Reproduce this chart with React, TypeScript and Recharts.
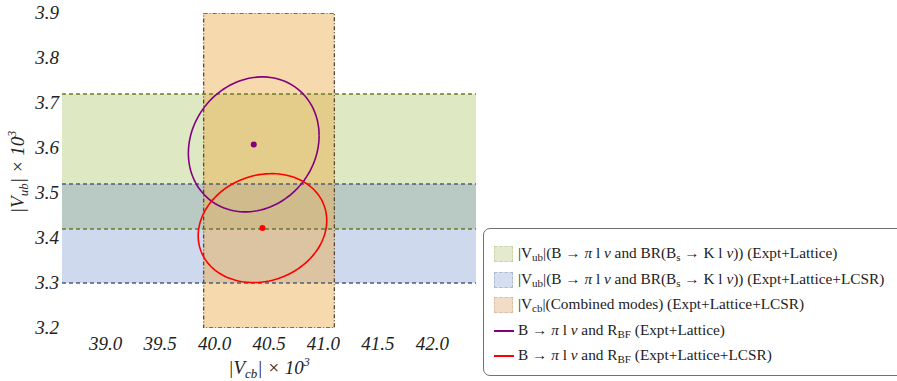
import React from 'react'
import { ScatterChart, Scatter, XAxis, YAxis, ReferenceArea, ReferenceLine, Text } from 'recharts'

// |Vub| bands (x 10^3)
const vubLatticeBand = [3.42, 3.72]
const vubLcsrBand = [3.3, 3.52]
// |Vcb| band (x 10^3)
const vcbBand = [39.9, 41.1]

// joint fits: centre, contour half-extents and correlation
const fitNames = ['Expt+Lattice', 'Expt+Lattice+LCSR']
const fitVcb = [40.36, 40.44]
const fitVub = [3.608, 3.422]
const fitHalfVcb = [0.6, 0.59]
const fitHalfVub = [0.15, 0.121]
const fitCorr = [0.13, 0.14]
const fitColors = ['#800080', '#ff0000']

const xDomain = [38.6, 42.4]
const yDomain = [3.2, 3.9]
const xMajor = [39, 39.5, 40, 40.5, 41, 41.5, 42]
const xTicks = [
  38.7, 38.8, 38.9, 39, 39.1, 39.2, 39.3, 39.4, 39.5, 39.6, 39.7, 39.8, 39.9,
  40, 40.1, 40.2, 40.3, 40.4, 40.5, 40.6, 40.7, 40.8, 40.9, 41, 41.1, 41.2, 41.3,
  41.4, 41.5, 41.6, 41.7, 41.8, 41.9, 42, 42.1, 42.2, 42.3,
]
const yMajor = [3.2, 3.3, 3.4, 3.5, 3.6, 3.7, 3.8, 3.9]
const yTicks = [
  3.2, 3.22, 3.24, 3.26, 3.28, 3.3, 3.32, 3.34, 3.36, 3.38, 3.4, 3.42, 3.44, 3.46,
  3.48, 3.5, 3.52, 3.54, 3.56, 3.58, 3.6, 3.62, 3.64, 3.66, 3.68, 3.7, 3.72, 3.74,
  3.76, 3.78, 3.8, 3.82, 3.84, 3.86, 3.88, 3.9,
]

const GREEN = { fill: '#a0be50', edge: '#6b7a2c' }
const BLUE = { fill: '#6e8cc8', edge: '#4d5d78' }
const ORANGE = { fill: '#ebaa46', edge: '#5b4630' }

const FRAME = '#b8b8b8'
const TICK = '#a8a8a8'
const serif = '"Liberation Serif", "Times New Roman", serif'

// closed contour of a correlated 1-sigma region
function contour(i: number) {
  const d = Math.asin(fitCorr[i])
  const pts = []
  for (let k = 0; k <= 120; k++) {
    const t = (k / 120) * 2 * Math.PI
    pts.push({
      x: fitVcb[i] + fitHalfVcb[i] * Math.cos(t),
      y: fitVub[i] + fitHalfVub[i] * Math.sin(t + d),
    })
  }
  return pts
}

const isMajorX = (v: number) => xMajor.some((m) => Math.abs(m - v) < 1e-6)
const isMajorY = (v: number) => yMajor.some((m) => Math.abs(m - v) < 1e-6)

// tick labels only; the tick marks live on the frame axes below
const BottomLabel = (p: any) => (
  <Text x={p.x} y={p.y + 22} textAnchor="middle" fontFamily="Liberation Serif" fontStyle="italic" fontSize={19} fill="#222">
    {p.payload.value.toFixed(1)}
  </Text>
)

const LeftLabel = (p: any) => (
  <Text x={p.x - 3} y={p.y + 6} textAnchor="end" fontFamily="Liberation Serif" fontStyle="italic" fontSize={19} fill="#222">
    {p.payload.value.toFixed(1)}
  </Text>
)

// inward tick marks, Mathematica frame style
const BottomMark = (p: any) => (
  <line x1={p.x} x2={p.x} y1={p.y} y2={p.y - (isMajorX(p.payload.value) ? 7 : 3.5)} stroke={TICK} />
)
const TopMark = (p: any) => (
  <line x1={p.x} x2={p.x} y1={p.y} y2={p.y + (isMajorX(p.payload.value) ? 7 : 3.5)} stroke={TICK} />
)
const LeftMark = (p: any) => (
  <line x1={p.x} x2={p.x + (isMajorY(p.payload.value) ? 7 : 3.5)} y1={p.y} y2={p.y} stroke={TICK} />
)
const RightMark = (p: any) => (
  <line x1={p.x} x2={p.x - (isMajorY(p.payload.value) ? 7 : 3.5)} y1={p.y} y2={p.y} stroke={TICK} />
)

const Dot = (color: string) => (props: any) => <circle cx={props.cx} cy={props.cy} r={3} fill={color} />
const NoShape = () => <g />

const sub = { fontSize: '0.72em', verticalAlign: '-0.25em', lineHeight: 0 }

const swatch = (fill: string, border: string) => (
  <span
    style={{
      display: 'inline-block',
      width: 19,
      height: 16,
      marginRight: 5,
      verticalAlign: 'middle',
      background: fill,
      border: `1.5px dashed ${border}`,
      boxSizing: 'border-box',
    }}
  />
)

const lineSwatch = (color: string) => (
  <span style={{ display: 'inline-block', width: 20, height: 2, marginRight: 4, verticalAlign: 'middle', background: color }} />
)

function ChartLegend() {
  const rows = [
    <>
      {swatch('#e3ead0', '#c7d4a4')}|V<span style={sub}>ub</span>|(B → <i>π</i> l <i>ν</i> and BR(B<span style={sub}>s</span> → K l <i>ν</i>)) (Expt+Lattice)
    </>,
    <>
      {swatch('#d6dff0', '#aab8d0')}|V<span style={sub}>ub</span>|(B → <i>π</i> l <i>ν</i> and BR(B<span style={sub}>s</span> → K l <i>ν</i>)) (Expt+Lattice+LCSR)
    </>,
    <>
      {swatch('#f1dcc8', '#d9bfa4')}|V<span style={sub}>cb</span>|(Combined modes) (Expt+Lattice+LCSR)
    </>,
    <>
      {lineSwatch(fitColors[0])}B → <i>π</i> l <i>ν</i> and R<span style={sub}>BF</span> ({fitNames[0]})
    </>,
    <>
      {lineSwatch(fitColors[1])}B → <i>π</i> l <i>ν</i> and R<span style={sub}>BF</span> ({fitNames[1]})
    </>,
  ]
  return (
    <div
      style={{
        position: 'absolute',
        left: 483,
        top: 228,
        width: 430,
        height: 148,
        boxSizing: 'border-box',
        border: '1px solid #707070',
        borderRadius: 7,
        paddingTop: 11,
        paddingLeft: 10,
        fontFamily: serif,
        fontSize: 15.3,
        color: '#222',
      }}
    >
      {rows.map((r, i) => (
        <div key={i} style={{ height: 25.5, lineHeight: '25.5px', whiteSpace: 'nowrap' }}>
          {r}
        </div>
      ))}
    </div>
  )
}

const frameAxis = {
  type: 'number' as const,
  allowDataOverflow: true,
  interval: 0,
  tickSize: 0,
  tickMargin: 0,
  tickLine: false,
  axisLine: { stroke: FRAME },
}

export default function App() {
  return (
    <div style={{ position: 'absolute', left: 0, top: 0, width: 897, height: 381, background: '#fff' }}>
      <ScatterChart width={897} height={381} margin={{ top: 13, right: 421, bottom: 8, left: 12 }}>
        {/* frame with tick marks (zero size, sits on the plot edge) */}
        <XAxis {...frameAxis} xAxisId="marksB" dataKey="x" domain={xDomain} ticks={xTicks} height={0} tick={(p: any) => <BottomMark {...p} />} />
        <XAxis {...frameAxis} xAxisId="marksT" orientation="top" dataKey="x" domain={xDomain} ticks={xTicks} height={0} tick={(p: any) => <TopMark {...p} />} />
        <YAxis {...frameAxis} yAxisId="marksL" dataKey="y" domain={yDomain} ticks={yTicks} width={0} tick={(p: any) => <LeftMark {...p} />} />
        <YAxis {...frameAxis} yAxisId="marksR" orientation="right" dataKey="y" domain={yDomain} ticks={yTicks} width={0} tick={(p: any) => <RightMark {...p} />} />
        {/* labelled axes */}
        <XAxis
          {...frameAxis}
          dataKey="x"
          domain={xDomain}
          ticks={xMajor}
          height={45}
          axisLine={false}
          tick={(p: any) => <BottomLabel {...p} />}
        />
        <YAxis
          {...frameAxis}
          dataKey="y"
          domain={yDomain}
          ticks={yMajor}
          width={50}
          axisLine={false}
          tick={(p: any) => <LeftLabel {...p} />}
        />

        <ReferenceArea y1={vubLatticeBand[0]} y2={vubLatticeBand[1]} fill={GREEN.fill} fillOpacity={0.35} stroke="none" ifOverflow="hidden" />
        <ReferenceArea y1={vubLcsrBand[0]} y2={vubLcsrBand[1]} fill={BLUE.fill} fillOpacity={0.33} stroke="none" ifOverflow="hidden" />
        <ReferenceArea
          x1={vcbBand[0]}
          x2={vcbBand[1]}
          y1={yDomain[0]}
          y2={yDomain[1]}
          fill={ORANGE.fill}
          fillOpacity={0.45}
          stroke={ORANGE.edge}
          strokeWidth={1.3}
          strokeDasharray="4 2 1 2"
          ifOverflow="hidden"
        />
        {vubLatticeBand.map((v) => (
          <ReferenceLine key={'g' + v} y={v} stroke={GREEN.edge} strokeWidth={1.3} strokeDasharray="4 3" />
        ))}
        {vubLcsrBand.map((v) => (
          <ReferenceLine key={'b' + v} y={v} stroke={BLUE.edge} strokeWidth={1.3} strokeDasharray="4 3" />
        ))}

        {fitNames.map((name, i) => (
          <Scatter
            key={name}
            name={name}
            data={contour(i)}
            line={{ stroke: fitColors[i], strokeWidth: 1.6 }}
            lineJointType="linear"
            shape={NoShape}
            isAnimationActive={false}
          />
        ))}
        {fitNames.map((name, i) => (
          <Scatter
            key={name + '-c'}
            data={[{ x: fitVcb[i], y: fitVub[i] }]}
            fill={fitColors[i]}
            shape={Dot(fitColors[i])}
            isAnimationActive={false}
          />
        ))}

        {/* axis titles */}
        <text x={269} y={374} textAnchor="middle" fontFamily="Liberation Serif" fontStyle="italic" fontSize={19} fill="#222">
          |V<tspan fontSize={13} dy={4}>cb</tspan>
          <tspan dy={-4}>| × 10</tspan>
          <tspan fontSize={12} dy={-8}>3</tspan>
        </text>
        <text
          x={0}
          y={0}
          transform="translate(24,172) rotate(-90)"
          textAnchor="middle"
          fontFamily="Liberation Serif"
          fontStyle="italic"
          fontSize={19}
          fill="#222"
        >
          |V<tspan fontSize={13} dy={4}>ub</tspan>
          <tspan dy={-4}>| × 10</tspan>
          <tspan fontSize={12} dy={-8}>3</tspan>
        </text>
      </ScatterChart>
      <ChartLegend />
    </div>
  )
}
